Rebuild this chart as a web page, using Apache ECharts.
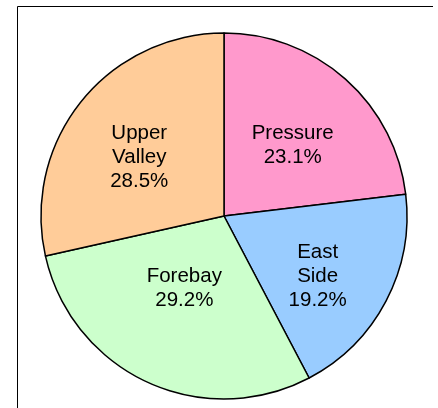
<!DOCTYPE html>
<html>
<head>
<meta charset="utf-8">
<script src="https://cdn.jsdelivr.net/npm/echarts@6/dist/echarts.min.js"></script>
<style>
  html, body { margin: 0; padding: 0; background: #fff; }
  #chart { width: 438px; height: 408px; }
</style>
</head>
<body>
<div id="chart"></div>
<script>
// 扇区名称（顺时针，从12点开始）
const regions = ['Pressure', 'East\nSide', 'Forebay', 'Upper\nValley']
// 百分比
const shares = [23.1, 19.2, 29.2, 28.5]
const colors = ['#ff99cc', '#99ccff', '#ccffcc', '#ffcc99']
// 标签微调：左右用 padding，上下用空行
const labelPads = [[0, 0, 0, 12], [0, 0, 0, 20], [0, 0, 0, 0], [0, 22, 0, 0]]
const gapTop = [0, 32, 0, 0]
const gapBottom = [0, 0, 26, 0]

const chart = echarts.init(document.getElementById('chart'))

const fmt = i => p => {
  let s = p.name + '\n' + p.value + '%'
  if (gapTop[i]) s = '{t| }\n' + s
  if (gapBottom[i]) s = s + '\n{b| }'
  return s
}

chart.setOption({
  animation: false,
  graphic: [
    {
      type: 'polyline',
      shape: { points: [[17.5, 408], [17.5, 6.5], [433, 6.5]] },
      style: { stroke: '#000', lineWidth: 1, fill: null },
      silent: true
    }
  ],
  series: [
    {
      type: 'pie',
      center: [224, 216],
      radius: [0, 183],
      startAngle: 90,
      clockwise: true,
      silent: true,
      emphasis: { disabled: true },
      itemStyle: {
        borderColor: '#000',
        borderWidth: 1.5
      },
      label: {
        show: true,
        position: 'inside',
        color: '#000',
        fontFamily: 'Liberation Sans, Arial, sans-serif',
        fontSize: 20.5,
        lineHeight: 24,
        align: 'center'
      },
      labelLine: { show: false },
      data: regions.map((name, i) => ({
        name: name,
        value: shares[i],
        itemStyle: { color: colors[i] },
        label: {
          padding: labelPads[i],
          formatter: fmt(i),
          rich: {
            t: { fontSize: 2, lineHeight: gapTop[i] || 1 },
            b: { fontSize: 2, lineHeight: gapBottom[i] || 1 }
          }
        }
      }))
    }
  ]
})
</script>
</body>
</html>
